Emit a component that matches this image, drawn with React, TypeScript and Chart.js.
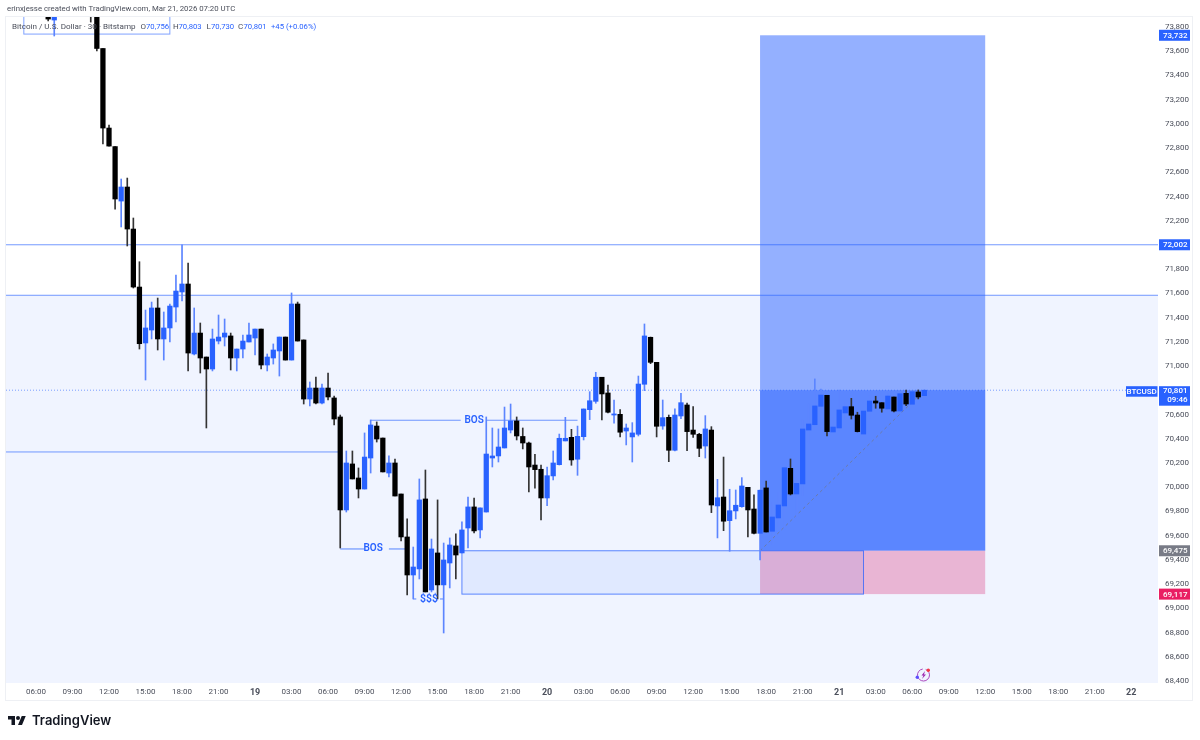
import React, { useEffect, useRef } from "react";
import { Chart, registerables } from "chart.js";

Chart.register(...registerables);

const FONT = 'Roboto, "Noto Sans", sans-serif';
const firstBar = 14;

const opens = [73899,73858,null,null,null,null,null,73950,74100,73623,72966,72813,72363,72479,72132,71653,71191,71298,71480,71224,71315,71488,71612,71678,71100,71273,71075,70976,71207,71240,71249,71067,71141,71199,71232,71306,71009,71067,71125,71240,71050,71513,71216,70728,70819,70695,70819,70737,70580,69812,70192,70076,69985,70241,70505,70406,70117,70200,69944,69589,69275,69325,69903,69151,69457,69193,69374,69515,69457,69663,69837,69647,69795,70241,70258,70324,70472,70547,70419,70365,70183,70148,69911,70093,70186,70382,70412,70231,70417,70640,70709,70908,70778,70596,70602,70464,70415,70437,70850,71238,71031,70505,70577,70305,70588,70679,70472,70437,70340,70472,69845,69919,69724,69804,69839,69999,69820,69619,69994,69636,69746,69845,70156,69944,70027,70472,70516,70668,70759,70456,70489,70613,70665,70596,70439,70627,70712,70698,70646,70745,70629,70775,70685,70786,70756];
const highs = [73910,73900,null,null,null,null,null,74000,74120,73623,72991,72813,72545,72553,72223,71862,71463,71529,71562,71447,71513,71752,72002,71851,71480,71356,71075,71306,71422,71389,71273,71141,71257,71356,71306,71306,71100,71183,71240,71240,71604,71529,71216,70869,70910,70852,70943,70753,70596,70299,70299,70159,70448,70555,70539,70406,70258,70233,69944,69738,69506,70068,70142,69572,69895,69539,69581,69614,69713,69919,69911,69829,70580,70489,70481,70662,70687,70580,70489,70373,70272,70183,70167,70299,70439,70577,70478,70505,70646,70789,70949,70908,70844,70720,70640,70522,70533,70918,71348,71240,71031,70720,70596,70648,70775,70695,70665,70445,70591,70500,70065,70249,69983,69977,70079,69999,69936,69977,70051,69875,69958,70161,70233,70082,70555,70687,70894,70811,70759,70574,70803,70701,70734,70619,70629,70756,70751,70698,70780,70745,70772,70803,70792,70803,70803];
const lows = [73850,73726,null,null,null,null,null,73841,73602,72834,72817,72297,72149,71992,71645,71141,70885,71224,71133,71050,71199,71364,71538,70960,71092,70943,70489,70960,71183,71166,70968,70960,71067,71199,71092,70976,70960,71017,70918,71050,71050,71207,70687,70671,70687,70687,70720,70514,69498,69795,70068,69911,69985,70117,70373,70126,70084,69927,69556,69110,69077,69242,69135,69135,69077,68796,69168,69242,69457,69498,69622,69581,69795,70167,70208,70324,70448,70390,70316,69961,69991,69729,69847,70060,70183,70382,70181,70098,70390,70558,70693,70555,70613,70528,70415,70349,70208,70423,70797,71020,70415,70478,70211,70299,70566,70302,70412,70252,70241,69790,69581,69641,69471,69738,69834,69589,69614,69399,69630,69525,69674,69655,69936,69740,69930,70363,70516,70615,70423,70456,70467,70561,70563,70456,70434,70569,70652,70619,70643,70621,70629,70673,70683,70729,70730];
const closes = [73866,73883,null,null,null,null,null,73900,73623,72966,72817,72380,72479,72132,71653,71185,71315,71480,71224,71315,71496,71620,71678,71108,71273,71067,70976,71224,71240,71273,71067,71141,71207,71257,71306,71009,71075,71133,71240,71050,71513,71207,70728,70819,70695,70819,70745,70563,69812,70200,70068,69985,70249,70514,70398,70126,70200,69927,69589,69275,69341,69895,69135,69490,69193,69399,69523,69440,69647,69837,69639,69829,70274,70258,70332,70489,70547,70423,70365,70167,70145,69911,70095,70200,70404,70404,70225,70420,70646,70714,70908,70770,70619,70605,70454,70489,70448,70852,71249,71031,70503,70574,70305,70596,70698,70459,70437,70321,70481,69853,69913,69719,69806,69851,70010,69812,69619,69975,69630,69754,69853,70161,69944,70032,70481,70522,70671,70761,70459,70497,70638,70665,70594,70459,70629,70712,70695,70652,70753,70629,70772,70687,70789,70745,70801];

const yTicks = [73800,73600,73400,73200,73000,72800,72600,72400,72200,72000,71800,71600,71400,71200,71000,70800,70600,70400,70200,70000,69800,69600,69400,69200,69000,68800,68600,68400];
const xTickBars = [12,18,24,30,36,42,48,54,60,66,72,78,84,90,96,102,108,114,120,126,132,138,144,150,156,162,168,174,180,186,192];
const xTickLabels = ["06:00","09:00","12:00","15:00","18:00","21:00","19","03:00","06:00","09:00","12:00","15:00","18:00","21:00","20","03:00","06:00","09:00","12:00","15:00","18:00","21:00","21","03:00","06:00","09:00","12:00","15:00","18:00","21:00","22"];

const xRange = [7.07, 196.4];
const yRange = [68383, 73883];

const upperLevel = 72002;
const shadedFloor = 71585;
const brokenLevel = 70291;
const brokenLevelEnd = 62;
const lastPrice = 70801;
const entryPrice = 69475;
const targetPrice = 73732;
const stopPrice = 69117;
const positionBars = [131, 168];
const demandBars = [82, 148];
const topBoxBars = [10, 34];
const topBoxFloor = 73742;
const bos1 = { price: 70553, from: 67, to: 101, gapFrom: 81.8, gapTo: 86.1, mid: 84 };
const bos2 = { price: 69490, from: 62, to: 73, gapFrom: 66, gapTo: 70, mid: 67.4 };
const sweep = { price: 69077, from: 74, to: 79, gapFrom: 74.5, gapTo: 78.4, mid: 76.6 };
const diagonal = [{ x: 131, y: 69475 }, { x: 158, y: 70801 }];

const BLUE = "#2962ff";
const INK = "#4a4e5a";

function fmt(v: number) {
  return v.toLocaleString("en-US");
}

const overlay = {
  id: "overlay",
  beforeDatasetsDraw(chart: any) {
    const { ctx, chartArea: a, scales } = chart;
    const X = (v: number) => scales.x.getPixelForValue(v);
    const Y = (v: number) => scales.y.getPixelForValue(v);
    ctx.save();
    ctx.beginPath();
    ctx.rect(a.left, a.top, a.right - a.left, a.bottom - a.top);
    ctx.clip();

    // shaded floor
    ctx.fillStyle = "rgba(41,98,255,0.07)";
    ctx.fillRect(a.left, Y(shadedFloor), a.right - a.left, a.bottom - Y(shadedFloor));

    // position tool
    const px0 = X(positionBars[0]), px1 = X(positionBars[1]);
    ctx.fillStyle = "rgba(41,98,255,0.5)";
    ctx.fillRect(px0, Y(targetPrice), px1 - px0, Y(entryPrice) - Y(targetPrice));
    ctx.fillRect(px0, Y(lastPrice), px1 - px0, Y(entryPrice) - Y(lastPrice));
    ctx.fillStyle = "#e9b5d4";
    ctx.fillRect(px0, Y(entryPrice), px1 - px0, Y(stopPrice) - Y(entryPrice));

    // demand box
    const dx0 = X(demandBars[0]), dx1 = X(demandBars[1]);
    ctx.fillStyle = "rgba(41,98,255,0.08)";
    ctx.fillRect(dx0, Y(entryPrice), dx1 - dx0, Y(stopPrice) - Y(entryPrice));
    ctx.strokeStyle = "rgba(41,98,255,0.75)";
    ctx.lineWidth = 1;
    ctx.strokeRect(dx0, Y(entryPrice), dx1 - dx0, Y(stopPrice) - Y(entryPrice));

    // horizontal levels
    const hline = (y: number, x0: number, x1: number, color = "rgba(41,98,255,0.65)", w = 1) => {
      ctx.strokeStyle = color;
      ctx.lineWidth = w;
      ctx.beginPath();
      ctx.moveTo(x0, y);
      ctx.lineTo(x1, y);
      ctx.stroke();
    };
    hline(Y(upperLevel), a.left, a.right);
    hline(Y(shadedFloor), a.left, a.right);
    hline(Y(brokenLevel), a.left, X(brokenLevelEnd));

    // structure lines
    [bos1, bos2, sweep].forEach((s) => {
      hline(Y(s.price), X(s.from), X(s.gapFrom), "rgba(41,98,255,0.65)", 1.2);
      hline(Y(s.price), X(s.gapTo), X(s.to), "rgba(41,98,255,0.65)", 1.2);
    });

    // last price dotted
    ctx.save();
    ctx.setLineDash([1, 2]);
    hline(Y(lastPrice), a.left, 1126, "rgba(41,98,255,0.6)");
    ctx.restore();

    // top box
    const tx0 = X(topBoxBars[0]), tx1 = X(topBoxBars[1]);
    ctx.strokeStyle = "rgba(41,98,255,0.6)";
    ctx.lineWidth = 1;
    ctx.strokeRect(tx0, a.top - 10, tx1 - tx0, Y(topBoxFloor) - a.top + 10);
    ctx.restore();
  },
  afterDraw(chart: any) {
    const { ctx, chartArea: a, scales } = chart;
    const X = (v: number) => scales.x.getPixelForValue(v);
    const Y = (v: number) => scales.y.getPixelForValue(v);
    ctx.save();
    ctx.textBaseline = "middle";

    // cover above pane and frame
    ctx.fillStyle = "#fff";
    ctx.fillRect(0, 0, 1200, a.top - 0.5);
    ctx.strokeStyle = "#eef0f4";
    ctx.lineWidth = 1;
    ctx.strokeRect(a.left - 0.5, a.top - 0.5, 1193 - a.left, 701 - a.top);

    // structure text
    ctx.fillStyle = BLUE;
    ctx.textAlign = "center";
    ctx.font = `600 10px ${FONT}`;
    ctx.fillText("BOS", X(bos1.mid), Y(bos1.price));
    ctx.fillText("BOS", X(bos2.mid), Y(bos2.price));
    ctx.font = `600 10.5px ${FONT}`;
    ctx.fillText("$$$", X(sweep.mid), Y(sweep.price));

    // header
    ctx.textAlign = "left";
    ctx.font = `7.8px ${FONT}`;
    ctx.fillStyle = INK;
    ctx.fillText("erinxjesse created with TradingView.com, Mar 21, 2026 07:20 UTC", 7, 9.5);
    const parts: [string, number, string, number][] = [
      ["Bitcoin / U.S. Dollar · 30 · Bitstamp", 12, INK, 8.1],
      ["O", 140.5, INK, 8],
      ["70,756", 146, BLUE, 7.7],
      ["H", 173, INK, 8],
      ["70,803", 178.5, BLUE, 7.7],
      ["L", 206.5, INK, 8],
      ["70,730", 211, BLUE, 7.7],
      ["C", 238, INK, 8],
      ["70,801", 243.5, BLUE, 7.7],
      ["+45 (+0.06%)", 271, BLUE, 7.7],
    ];
    parts.forEach(([t, x, c, size]) => {
      ctx.fillStyle = c;
      ctx.font = `${size}px ${FONT}`;
      ctx.fillText(t, x, 27);
    });

    // price-axis tags
    const tag = (text: string, price: number, bg: string, fg = "#fff") => {
      const y = Y(price);
      ctx.fillStyle = bg;
      ctx.fillRect(1159, y - 5.5, 31, 11);
      ctx.fillStyle = fg;
      ctx.textAlign = "right";
      ctx.font = `500 8px ${FONT}`;
      ctx.fillText(text, 1187.5, y + 0.5);
    };
    tag(fmt(targetPrice), targetPrice, BLUE);
    tag(fmt(upperLevel), upperLevel, BLUE);
    tag(fmt(entryPrice), entryPrice, "#787b86");
    tag(fmt(stopPrice), stopPrice, "#e91e63");
    const ly = Y(lastPrice);
    ctx.fillStyle = BLUE;
    ctx.fillRect(1159, ly - 4, 31, 19.5);
    ctx.fillStyle = "#fff";
    ctx.fillText(fmt(lastPrice), 1187.5, ly + 1);
    ctx.fillText("09:46", 1187.5, ly + 10);
    ctx.fillStyle = BLUE;
    ctx.fillRect(1126, ly - 4, 31.5, 10.5);
    ctx.fillStyle = "#fff";
    ctx.textAlign = "center";
    ctx.fillText("BTCUSD", 1141.7, ly + 1.5);

    // event icon
    ctx.strokeStyle = "#ab47bc";
    ctx.lineWidth = 1;
    ctx.beginPath();
    ctx.arc(923.5, 675, 6, -1.2, 2.6);
    ctx.stroke();
    ctx.beginPath();
    ctx.arc(923.5, 675, 6, 3, 4.6);
    ctx.stroke();
    ctx.fillStyle = "#9c27b0";
    ctx.beginPath();
    ctx.moveTo(925, 671);
    ctx.lineTo(921.5, 675.5);
    ctx.lineTo(923.5, 675.5);
    ctx.lineTo(922, 679);
    ctx.lineTo(926, 674.5);
    ctx.lineTo(924, 674.5);
    ctx.closePath();
    ctx.fill();
    ctx.fillStyle = "#f23645";
    ctx.beginPath();
    ctx.arc(928.3, 670.3, 1.7, 0, Math.PI * 2);
    ctx.fill();
    ctx.fillStyle = "#5c4dff";
    ctx.beginPath();
    ctx.arc(917.3, 677.3, 1.7, 0, Math.PI * 2);
    ctx.fill();

    // logo
    ctx.fillStyle = "#131722";
    ctx.save();
    ctx.translate(8, 714);
    ctx.scale(0.5, 0.5);
    const p = new Path2D("M14 22H7V11H0V4h14v18zM28 22h-8l7.5-18h8L28 22z");
    ctx.fill(p);
    ctx.beginPath();
    ctx.arc(20, 8, 4, 0, Math.PI * 2);
    ctx.fill();
    ctx.restore();
    ctx.textAlign = "left";
    ctx.font = `600 13px Inter, ${FONT}`;
    ctx.fillText("TradingView", 32, 721);
    ctx.restore();
  },
};

export default function App() {
  const ref = useRef<HTMLCanvasElement>(null);
  useEffect(() => {
    const rows = opens
      .map((o, i) => ({ x: firstBar + i, o, h: highs[i], l: lows[i], c: closes[i] }))
      .filter((r) => r.o !== null) as { x: number; o: number; h: number; l: number; c: number }[];
    const colour = (r: { o: number; c: number }) => (r.c >= r.o ? BLUE : "#000000");
    const chart = new Chart(ref.current!, {
      type: "bar",
      data: {
        datasets: [
          {
            type: "line",
            data: diagonal,
            borderColor: "rgba(110,120,150,0.8)",
            borderWidth: 1,
            borderDash: [3, 3],
            pointRadius: 0,
            order: 3,
          } as any,
          {
            data: rows.map((r) => ({ x: r.x, y: [r.l, r.h] })),
            backgroundColor: rows.map((r) => (r.c >= r.o ? "#5c85ff" : "#333333")),
            barThickness: 1,
            grouped: false,
            order: 2,
          } as any,
          {
            data: rows.map((r) => ({ x: r.x, y: [Math.min(r.o, r.c), Math.max(r.o, r.c)] })),
            backgroundColor: rows.map(colour),
            barThickness: 4.6,
            grouped: false,
            order: 1,
          } as any,
        ],
      },
      options: {
        responsive: false,
        animation: false,
        layout: { padding: { left: 6, top: 17, right: 7, bottom: 39 } },
        plugins: { legend: { display: false }, tooltip: { enabled: false } },
        scales: {
          x: {
            type: "linear",
            offset: false,
            min: xRange[0],
            max: xRange[1],
            grid: { display: false, drawTicks: false },
            border: { display: false },
            afterBuildTicks: (s: any) => {
              s.ticks = xTickBars.map((value) => ({ value }));
            },
            afterFit: (s: any) => {
              s.height = 18;
            },
            ticks: {
              autoSkip: false,
              maxRotation: 0,
              padding: 4,
              color: INK,
              font: (c: any) => ({
                family: FONT,
                size: xTickLabels[xTickBars.indexOf(c.tick?.value)]?.length === 2 ? 9 : 8,
                weight: xTickLabels[xTickBars.indexOf(c.tick?.value)]?.length === 2 ? "700" : "400",
              }),
              callback: (v: any) => xTickLabels[xTickBars.indexOf(v)] ?? "",
            },
          },
          y: {
            type: "linear",
            position: "right",
            min: yRange[0],
            max: yRange[1],
            grid: { display: false, drawTicks: false },
            border: { display: false },
            afterBuildTicks: (s: any) => {
              s.ticks = yTicks.map((value) => ({ value }));
            },
            afterFit: (s: any) => {
              s.width = 35;
            },
            ticks: {
              autoSkip: false,
              padding: 7,
              color: INK,
              font: { family: FONT, size: 8 },
              callback: (v: any) => fmt(Number(v)),
            },
          },
        },
      },
      plugins: [overlay],
    } as any);
    return () => chart.destroy();
  }, []);
  return (
    <canvas
      ref={ref}
      width={1200}
      height={740}
      style={{ position: "fixed", left: 0, top: 0, width: 1200, height: 740, background: "#fff" }}
    />
  );
}
